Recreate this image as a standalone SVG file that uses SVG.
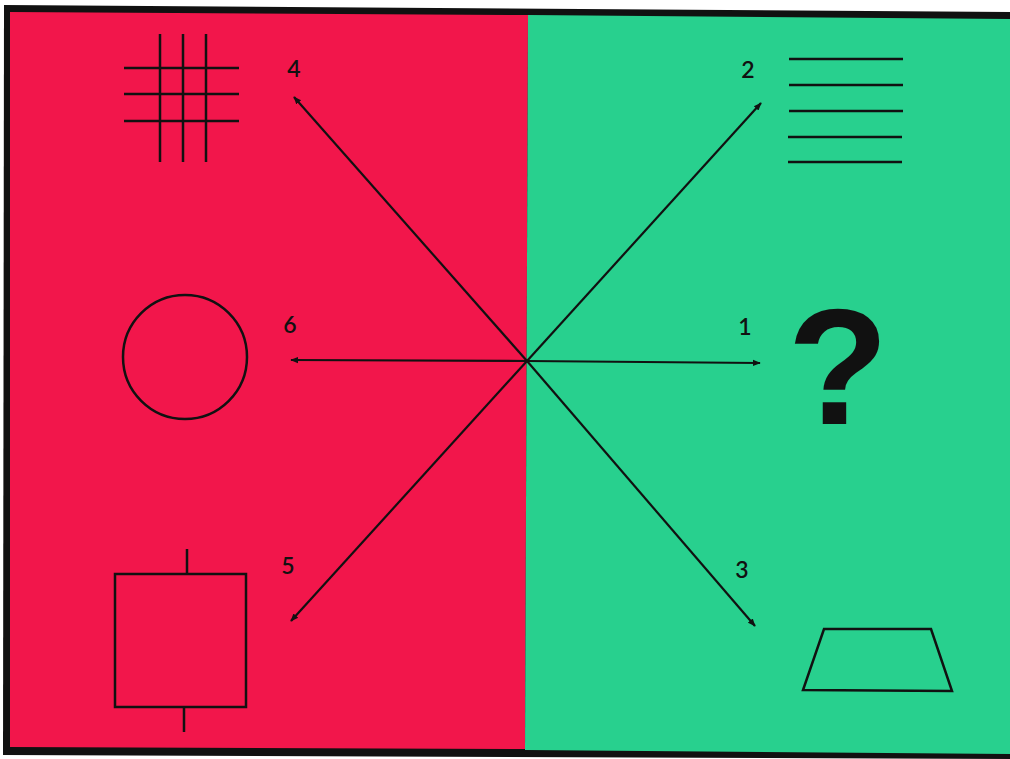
<svg xmlns="http://www.w3.org/2000/svg" width="1010" height="759" viewBox="0 0 1010 759">
  <defs>
    <marker id="ah" viewBox="0 0 10 10" refX="9" refY="5" markerWidth="8" markerHeight="8" orient="auto" markerUnits="userSpaceOnUse">
      <path d="M0,1 L10,5 L0,9 Z" fill="#111"/>
    </marker>
    <style>
      .shape { fill: none; stroke: #111; stroke-width: 2.5; }
      .conn { stroke: #111; stroke-width: 2.2; fill: none; marker-end: url(#ah); }
      .lbl { font-family: "Lato", "Liberation Sans", sans-serif; font-weight: 600; font-size: 23px; fill: #111; text-anchor: middle; }
    </style>
  </defs>
  <rect width="1010" height="759" fill="#ffffff"/>
  <polygon points="4,5 1010,12 1010,759 3,755" fill="#111"/>
  <polygon points="10,12 528,15 525,749 10,747" fill="#F2164B"/>
  <polygon points="528,15 1010,19 1010,754 525,750" fill="#28D08E"/>

  <g id="connectors">
    <line class="conn" x1="527" y1="361" x2="294" y2="97"/>
    <line class="conn" x1="527" y1="361" x2="761" y2="103"/>
    <line class="conn" x1="527" y1="361" x2="291" y2="360"/>
    <line class="conn" x1="527" y1="361" x2="760" y2="363"/>
    <line class="conn" x1="527" y1="361" x2="291" y2="621"/>
    <line class="conn" x1="527" y1="361" x2="755" y2="626"/>
  </g>

  <g id="n4">
    <path class="shape" d="M160,34 V162 M183,34 V162 M206,34 V162 M124,68 H239 M124,94 H239 M124,121 H239"/>
    <text class="lbl" x="294" y="77">4</text>
  </g>
  <g id="n2">
    <path class="shape" d="M789,59 H903 M789,85 H903 M789,111 H903 M788,137 H902 M788,162 H902"/>
    <text class="lbl" x="748" y="78">2</text>
  </g>
  <g id="n6">
    <circle class="shape" cx="185" cy="357" r="62"/>
    <text class="lbl" x="290" y="333">6</text>
  </g>
  <g id="n1">
    <text x="838" y="424" font-family="Liberation Sans, Arial, sans-serif" font-weight="bold" font-size="166" fill="#111" text-anchor="middle">?</text>
    <text class="lbl" x="745" y="335">1</text>
  </g>
  <g id="n5">
    <rect class="shape" x="115" y="574" width="131" height="133"/>
    <path class="shape" d="M187,549 V574 M184,707 V732"/>
    <text class="lbl" x="288" y="574">5</text>
  </g>
  <g id="n3">
    <polygon class="shape" points="824,629 931,629 952,691 803,690"/>
    <text class="lbl" x="742" y="578">3</text>
  </g>
</svg>
